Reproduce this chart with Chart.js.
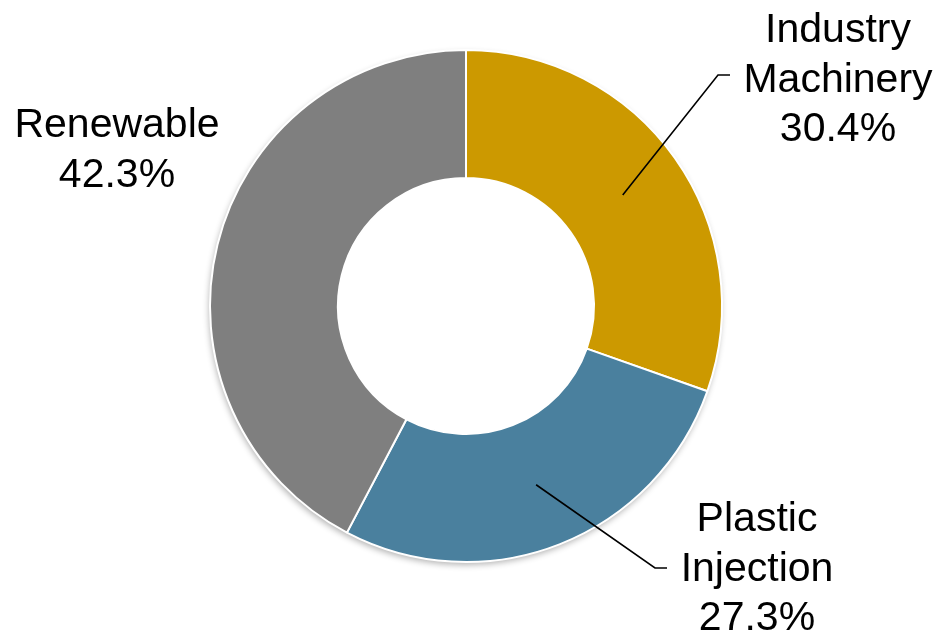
<!DOCTYPE html>
<html>
<head>
<meta charset="utf-8">
<script src="https://cdn.jsdelivr.net/npm/chart.js@4"></script>
<style>
  html, body { margin: 0; padding: 0; background: #ffffff; }
  #wrap { width: 938px; height: 635px; position: relative; }
</style>
</head>
<body>
<div id="wrap"><canvas id="chart"></canvas></div>
<script>
// Market share by sector
const categories = ['Industry Machinery', 'Plastic Injection', 'Renewable'];
const labelLines = [['Industry', 'Machinery'], ['Plastic', 'Injection'], ['Renewable']];
const shares = [30.4, 27.3, 42.3];
const sliceColors = ['#CC9900', '#4A809E', '#7F7F7F'];

// Label placement relative to the ring centre: dx = text centre, dy = first
// baseline; optional leader elbow with a short horizontal tail.
const labelLayout = [
  { dx: 372, dy: -264, elbow: { dx: 252, dy: -231, tail: 12 } },
  { dx: 291, dy: 225, elbow: { dx: 189, dy: 262, tail: 12 } },
  { dx: -349, dy: -169, elbow: null }
];

const FONT = '41px "Liberation Sans", Arial, sans-serif';
const LINE_H = 49.5;

const ringShadow = {
  id: 'ringShadow',
  beforeDatasetsDraw(chart) {
    const arc = chart.getDatasetMeta(0).data[0];
    if (!arc) return;
    const { x, y, outerRadius } = arc.getProps(['x', 'y', 'outerRadius'], true);
    const ctx = chart.ctx;
    ctx.save();
    ctx.shadowColor = 'rgba(0,0,0,0.3)';
    ctx.shadowBlur = 6;
    ctx.shadowOffsetX = -1;
    ctx.shadowOffsetY = 3;
    ctx.fillStyle = '#ffffff';
    ctx.beginPath();
    ctx.arc(x, y, outerRadius, 0, Math.PI * 2);
    ctx.fill();
    ctx.restore();
  }
};

const sliceLabels = {
  id: 'sliceLabels',
  afterDatasetsDraw(chart) {
    const meta = chart.getDatasetMeta(0);
    const ctx = chart.ctx;
    ctx.save();
    ctx.font = FONT;
    ctx.fillStyle = '#000000';
    ctx.textAlign = 'center';
    ctx.textBaseline = 'alphabetic';
    meta.data.forEach((arc, i) => {
      const p = arc.getProps(['x', 'y', 'startAngle', 'endAngle', 'innerRadius', 'outerRadius'], true);
      const lay = labelLayout[i];
      if (lay.elbow) {
        const mid = (p.startAngle + p.endAngle) / 2;
        const r = (p.innerRadius + p.outerRadius) / 2;
        const sx = p.x + Math.cos(mid) * r;
        const sy = p.y + Math.sin(mid) * r;
        const ex = p.x + lay.elbow.dx;
        const ey = p.y + lay.elbow.dy;
        ctx.beginPath();
        ctx.strokeStyle = '#000000';
        ctx.lineWidth = 1.6;
        ctx.moveTo(sx, sy);
        ctx.lineTo(ex, ey);
        ctx.lineTo(ex + lay.elbow.tail, ey);
        ctx.stroke();
      }
      const lines = labelLines[i].concat([shares[i].toFixed(1) + '%']);
      const cx = p.x + lay.dx;
      const first = p.y + lay.dy;
      lines.forEach((t, k) => {
        ctx.fillText(t, cx, first + k * LINE_H);
      });
    });
    ctx.restore();
  }
};

new Chart(document.getElementById('chart'), {
  type: 'doughnut',
  data: {
    labels: categories,
    datasets: [{
      data: shares,
      backgroundColor: sliceColors,
      borderColor: '#ffffff',
      borderWidth: 2,
      hoverOffset: 0
    }]
  },
  options: {
    responsive: true,
    maintainAspectRatio: false,
    animation: false,
    cutout: '50%',
    layout: { padding: { top: 49, bottom: 72, left: 0, right: 6 } },
    plugins: {
      legend: { display: false },
      tooltip: { enabled: false }
    }
  },
  plugins: [ringShadow, sliceLabels]
});
</script>
</body>
</html>
